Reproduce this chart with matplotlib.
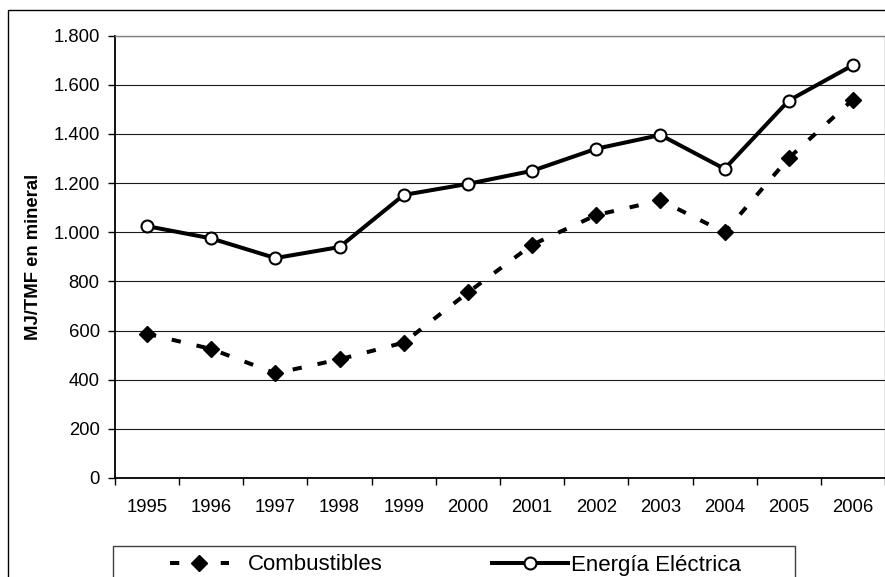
import numpy as np
import matplotlib
matplotlib.use("Agg")
import matplotlib.pyplot as plt
from matplotlib.patches import Rectangle

# Data
years = ["1995", "1996", "1997", "1998", "1999", "2000",
         "2001", "2002", "2003", "2004", "2005", "2006"]
combustibles = [587, 525, 426, 483, 551, 755, 949, 1070, 1130, 1000, 1302, 1540]
energia = [1025, 975, 895, 940, 1152, 1197, 1250, 1340, 1396, 1258, 1536, 1680]
y_ticks = [0, 200, 400, 600, 800, 1000, 1200, 1400, 1600, 1800]

plt.rcParams["font.family"] = ["Liberation Sans", "DejaVu Sans"]

W, H = 885, 577
fig = plt.figure(figsize=(W / 100, H / 100), dpi=100)


def fx(px):
  return px / W


def fy(py):
  return 1 - py / H


ax = fig.add_axes([fx(115), fy(478), fx(885) - fx(115), fy(35.7) - fy(478)])
x = np.arange(len(years))

line_c, = ax.plot(x, combustibles, color="black", lw=2.9, ls=(0, (2.3, 4.0)),
                  marker="D", ms=7.8, mfc="black", mec="black", mew=1,
                  label="Combustibles", clip_on=False, zorder=3)
line_e, = ax.plot(x, energia, color="black", lw=2.9,
                  marker="o", ms=8.6, mfc="white", mec="black", mew=1.5,
                  label="Energía Eléctrica", clip_on=False, zorder=4)

ax.set_xlim(-0.5, len(years) - 0.5)
ax.set_ylim(0, 1800)
ax.set_yticks(y_ticks)
ax.set_yticklabels([f"{v:,}".replace(",", ".") for v in y_ticks], fontsize=13.3)

# ticks at category boundaries, labels at category centres
ax.set_xticks(np.arange(-0.5, len(years), 1))
ax.set_xticklabels([])
ax.set_xticks(x, minor=True)
ax.set_xticklabels(years, minor=True, fontsize=13.3)
ax.tick_params(axis="x", which="minor", length=0, pad=15)
ax.tick_params(axis="x", which="major", length=5, width=1, color="black")
ax.tick_params(axis="y", length=5, width=1, pad=6, color="black")

ax.yaxis.grid(True, color="#1a1a1a", lw=0.8)
ax.set_axisbelow(True)
for side in ["left", "bottom"]:
  ax.spines[side].set_color("black")
  ax.spines[side].set_linewidth(1.3)
for side in ["top", "right"]:
  ax.spines[side].set_color("#808080")
  ax.spines[side].set_linewidth(1.0)

ax.set_ylabel("MJ/TMF en mineral", fontsize=13.3, fontweight="bold")
ax.yaxis.set_label_coords((42 - 115) / 770, 0.5)

# outer chart border (right and bottom edges are cut off in the reference)
fig.add_artist(Rectangle((fx(8), fy(700)), 2.0, fy(10) - fy(700),
                         transform=fig.transFigure, fill=False,
                         edgecolor="black", lw=1.0))
# legend frame
fig.add_artist(Rectangle((fx(113), fy(620)), fx(795) - fx(113), fy(545.5) - fy(620),
                         transform=fig.transFigure, fill=False,
                         edgecolor="#404040", lw=1.0))

leg1 = fig.legend(handles=[line_c], loc="center left",
                  bbox_to_anchor=(fx(170), fy(565)), bbox_transform=fig.transFigure,
                  frameon=False, fontsize=16, borderpad=0, borderaxespad=0,
                  handlelength=2.65, handletextpad=0.85)
leg2 = fig.legend(handles=[line_e], loc="center left",
                  bbox_to_anchor=(fx(492), fy(565)), bbox_transform=fig.transFigure,
                  frameon=False, fontsize=16, borderpad=0, borderaxespad=0,
                  handlelength=3.4, handletextpad=0.15)

fig.savefig("out.png", dpi=100)
